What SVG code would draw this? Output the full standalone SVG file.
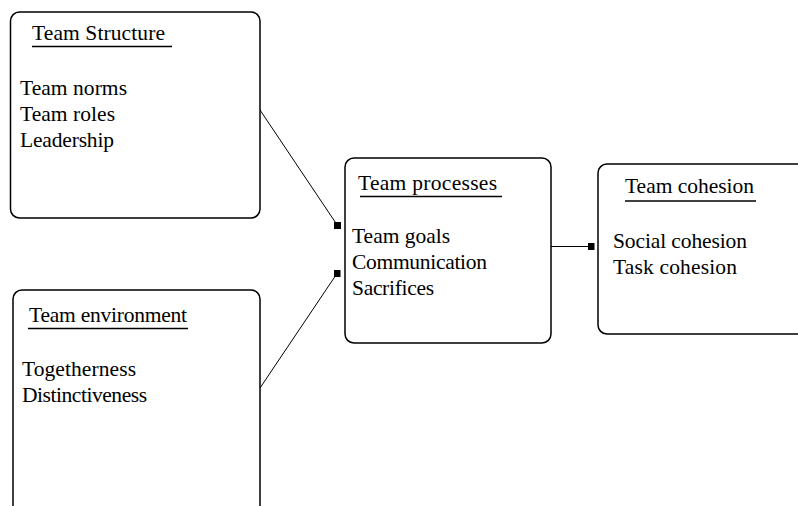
<svg xmlns="http://www.w3.org/2000/svg" width="798" height="506" viewBox="0 0 798 506">
<style>
.box{fill:#fff;stroke:#000;stroke-width:1.5}
.t{font-family:"Liberation Serif","Times New Roman",serif;font-size:21.5px;fill:#000}
.ul{stroke:#000;stroke-width:1.5}
.c{stroke:#000;stroke-width:1;fill:none}
</style>
<defs>
<marker id="sq" viewBox="0 0 7 7" refX="3.5" refY="3.5" markerWidth="7" markerHeight="7" markerUnits="userSpaceOnUse"><rect width="7" height="7" fill="#000"/></marker>
</defs>
<rect width="798" height="506" fill="#fff"/>
<g id="connectors">
<line class="c" x1="260" y1="110" x2="337.5" y2="225.5" marker-end="url(#sq)"/>
<line class="c" x1="260" y1="388" x2="337" y2="273.5" marker-end="url(#sq)"/>
<line class="c" x1="551" y1="246.5" x2="591" y2="246.5" marker-end="url(#sq)"/>
</g>
<g id="team-structure">
<rect class="box" x="10.5" y="12" width="249.5" height="206" rx="9"/>
<text class="t" x="32" y="40" textLength="133" lengthAdjust="spacing">Team Structure</text>
<line class="ul" x1="32" y1="46.5" x2="172" y2="46.5"/>
<text class="t" x="20" y="95" textLength="107" lengthAdjust="spacing">Team norms</text>
<text class="t" x="20" y="121" textLength="95" lengthAdjust="spacing">Team roles</text>
<text class="t" x="20" y="147" textLength="94" lengthAdjust="spacing">Leadership</text>
</g>
<g id="team-environment">
<rect class="box" x="13" y="290" width="247" height="240" rx="9"/>
<text class="t" x="29" y="322" textLength="158" lengthAdjust="spacing">Team environment</text>
<line class="ul" x1="28" y1="328.5" x2="188" y2="328.5"/>
<text class="t" x="22" y="376" textLength="114" lengthAdjust="spacing">Togetherness</text>
<text class="t" x="22" y="402" textLength="125" lengthAdjust="spacing">Distinctiveness</text>
</g>
<g id="team-processes">
<rect class="box" x="345" y="158" width="206" height="185" rx="9"/>
<text class="t" x="358" y="190" textLength="139" lengthAdjust="spacing">Team processes</text>
<line class="ul" x1="360" y1="196.5" x2="502" y2="196.5"/>
<text class="t" x="352" y="243" textLength="98" lengthAdjust="spacing">Team goals</text>
<text class="t" x="352" y="269" textLength="135" lengthAdjust="spacing">Communication</text>
<text class="t" x="352" y="295" textLength="82" lengthAdjust="spacing">Sacrifices</text>
</g>
<g id="team-cohesion">
<rect class="box" x="598" y="164" width="230" height="170" rx="9"/>
<text class="t" x="625" y="193" textLength="129" lengthAdjust="spacing">Team cohesion</text>
<line class="ul" x1="625" y1="201" x2="756" y2="201"/>
<text class="t" x="613" y="248" textLength="134" lengthAdjust="spacing">Social cohesion</text>
<text class="t" x="613" y="274" textLength="124" lengthAdjust="spacing">Task cohesion</text>
</g>
</svg>
